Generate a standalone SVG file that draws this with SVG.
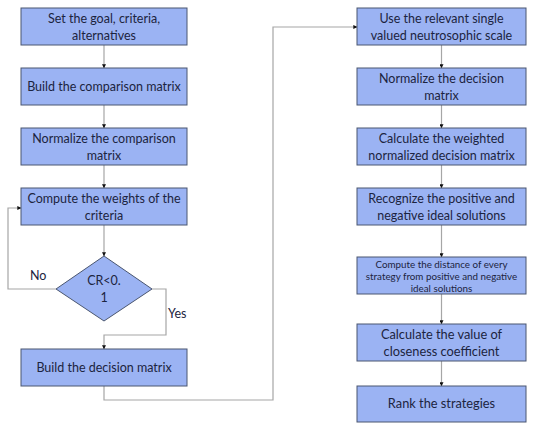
<svg xmlns="http://www.w3.org/2000/svg" width="548" height="439" viewBox="0 0 548 439">
<defs>
<style>
.box{fill:#9bb3f3;stroke:#4a5670;stroke-width:1}
.t{font-family:Lato,"Liberation Sans",sans-serif;font-size:12.5px;fill:#1c2440;text-anchor:middle}
.s{font-size:9.8px}
.b{font-size:12.8px}
.lbl{font-family:Lato,"Liberation Sans",sans-serif;font-size:12.5px;fill:#1c2440}
.c{fill:none;stroke:#a6a6a6;stroke-width:1.2}
</style>
<marker id="ah" viewBox="0 0 6 6" refX="5.5" refY="3" markerWidth="4" markerHeight="4" orient="auto" markerUnits="userSpaceOnUse">
<path d="M0,0 L6,3 L0,6 z" fill="#111"/>
</marker>
</defs>
<rect width="548" height="439" fill="#fff"/>
<g id="connectors">
<path class="c" d="M104,45 V68" marker-end="url(#ah)"/>
<path class="c" d="M104,105 V128" marker-end="url(#ah)"/>
<path class="c" d="M104,165 V188" marker-end="url(#ah)"/>
<path class="c" d="M104,225 V256" marker-end="url(#ah)"/>
<path class="c" d="M56,289 H8 V208 H21" marker-end="url(#ah)"/>
<path class="c" d="M152,289 H166 V335 H104 V349" marker-end="url(#ah)"/>
<path class="c" d="M104,386 V400 H273 V27 H357" marker-end="url(#ah)"/>
<path class="c" d="M441.5,45 V68" marker-end="url(#ah)"/>
<path class="c" d="M441.5,105 V128" marker-end="url(#ah)"/>
<path class="c" d="M441.5,165 V188" marker-end="url(#ah)"/>
<path class="c" d="M441.5,225 V257" marker-end="url(#ah)"/>
<path class="c" d="M441.5,294 V324" marker-end="url(#ah)"/>
<path class="c" d="M441.5,361 V386" marker-end="url(#ah)"/>
</g>
<text class="lbl" x="30" y="280">No</text>
<text class="lbl" x="168" y="318">Yes</text>
<g id="n1"><rect class="box" x="21" y="8" width="166" height="37"/>
<text class="t" x="104" y="23">Set the goal, criteria,</text><text class="t" x="104" y="40">alternatives</text></g>
<g id="n2"><rect class="box" x="21" y="68" width="166" height="37"/>
<text class="t" x="104" y="91">Build the comparison matrix</text></g>
<g id="n3"><rect class="box" x="21" y="128" width="166" height="37"/>
<text class="t" x="104" y="143">Normalize the comparison</text><text class="t" x="104" y="160">matrix</text></g>
<g id="n4"><rect class="box" x="21" y="188" width="166" height="37"/>
<text class="t" x="104" y="203">Compute the weights of the</text><text class="t" x="104" y="220">criteria</text></g>
<g id="n5"><path class="box" d="M104,256 L152,289 L104,321 L56,289 Z"/>
<text class="t" x="104" y="285">CR&lt;0.</text><text class="t" x="104" y="302">1</text></g>
<g id="n6"><rect class="box" x="21" y="349" width="166" height="37"/>
<text class="t" x="104" y="372">Build the decision matrix</text></g>
<g id="r1"><rect class="box" x="357" y="8" width="169" height="37"/>
<text class="t" x="441.5" y="23">Use the relevant single</text><text class="t" x="441.5" y="40">valued neutrosophic scale</text></g>
<g id="r2"><rect class="box" x="357" y="68" width="169" height="37"/>
<text class="t" x="441.5" y="83">Normalize the decision</text><text class="t" x="441.5" y="100">matrix</text></g>
<g id="r3"><rect class="box" x="357" y="128" width="169" height="37"/>
<text class="t" x="441.5" y="143">Calculate the weighted</text><text class="t" x="441.5" y="160">normalized decision matrix</text></g>
<g id="r4"><rect class="box" x="357" y="188" width="169" height="37"/>
<text class="t" x="441.5" y="203">Recognize the positive and</text><text class="t" x="441.5" y="220">negative ideal solutions</text></g>
<g id="r5"><rect class="box" x="357" y="257" width="169" height="37"/>
<text class="t s" x="441.5" y="267.5">Compute the distance of every</text><text class="t s" x="441.5" y="279.5">strategy from positive and negative</text><text class="t s" x="441.5" y="291.5">ideal solutions</text></g>
<g id="r6"><rect class="box" x="357" y="324" width="169" height="37"/>
<text class="t b" x="441.5" y="339">Calculate the value of</text><text class="t b" x="441.5" y="356">closeness coefficient</text></g>
<g id="r7"><rect class="box" x="357" y="386" width="169" height="36"/>
<text class="t b" x="441.5" y="408">Rank the strategies</text></g>
</svg>
